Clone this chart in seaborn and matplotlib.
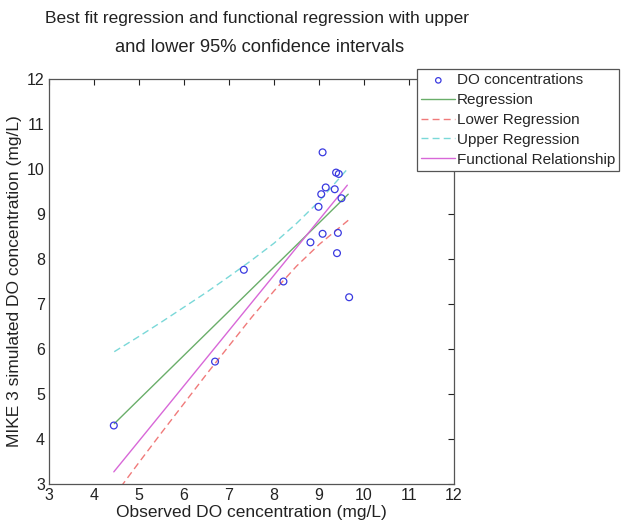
import numpy as np
import pandas as pd
import matplotlib
matplotlib.use("Agg")
import matplotlib.pyplot as plt
import seaborn as sns

# Observed vs simulated DO concentrations (mg/L)
obs_x = [4.44, 6.69, 7.33, 8.21, 8.81, 8.99, 9.05, 9.08, 9.08, 9.15, 9.35, 9.38, 9.44, 9.42, 9.40, 9.50, 9.67]
sim_y = [4.30, 5.72, 7.76, 7.50, 8.37, 9.16, 9.44, 10.37, 8.56, 9.59, 9.55, 9.92, 9.89, 8.58, 8.13, 9.35, 7.15]

# Curves
line_x = [4.45, 5.0, 5.5, 6.0, 6.5, 7.0, 7.5, 8.0, 8.5, 9.0, 9.65]
regression = [4.34, 4.88, 5.37, 5.86, 6.35, 6.84, 7.33, 7.82, 8.31, 8.80, 9.44]
lower_reg = [2.74, 3.48, 4.14, 4.79, 5.44, 6.07, 6.70, 7.29, 7.84, 8.32, 8.86]
upper_reg = [5.94, 6.28, 6.60, 6.93, 7.26, 7.61, 7.97, 8.35, 8.79, 9.28, 10.02]
func_x = [4.44, 9.63]
func_y = [3.27, 9.64]

labels = ["DO concentrations", "Regression", "Lower Regression", "Upper Regression", "Functional Relationship"]
title_lines = ["Best fit regression and functional regression with upper", "and lower 95% confidence intervals"]
xlabel = "Observed DO cencentration (mg/L)"
ylabel = "MIKE 3 simulated DO concentration (mg/L)"
ticks = [3, 4, 5, 6, 7, 8, 9, 10, 11, 12]

sns.set_theme(style="white")
plt.rcParams['font.family'] = ['Liberation Sans', 'DejaVu Sans']

fig = plt.figure(figsize=(6.26, 5.21), dpi=100)
ax = fig.add_axes([0.0783, 0.071, 0.6469, 0.7774])

pts = pd.DataFrame({"x": obs_x, "y": sim_y})
lines = pd.DataFrame({"x": line_x, "reg": regression, "low": lower_reg, "up": upper_reg})
func = pd.DataFrame({"x": func_x, "y": func_y})

sns.scatterplot(data=pts, x="x", y="y", ax=ax, marker="o", s=24,
                facecolors="none", edgecolor="#3a3ae0", linewidth=0.9, label=labels[0], zorder=5)
sns.lineplot(data=lines, x="x", y="reg", ax=ax, color="#6aae6a", linewidth=1.0, label=labels[1])
sns.lineplot(data=lines, x="x", y="low", ax=ax, color="#f07a7a", linewidth=1.0, linestyle=(0, (5, 3)), label=labels[2])
sns.lineplot(data=lines, x="x", y="up", ax=ax, color="#7ad8d8", linewidth=1.0, linestyle=(0, (5, 3)), label=labels[3])
sns.lineplot(data=func, x="x", y="y", ax=ax, color="#d868d8", linewidth=1.0, label=labels[4])

ax.set_xlim(3, 12)
ax.set_ylim(3, 12)
ax.set_xticks(ticks)
ax.set_yticks(ticks)
ax.tick_params(direction="in", length=4, width=0.8, top=True, right=True,
               labelsize=11.5, colors="#222222", pad=3)
for s in ax.spines.values():
    s.set_color("#555555")
    s.set_linewidth(0.9)
ax.set_xlabel(xlabel, fontsize=12.5, color="#222222", labelpad=1)
ax.set_ylabel(ylabel, fontsize=12.5, color="#222222", labelpad=4)

fig.text(0.41, 0.965, title_lines[0], ha="center", va="center", fontsize=12.5, color="#222222")
fig.text(0.415, 0.908, title_lines[1], ha="center", va="center", fontsize=13.2, color="#222222")

leg = ax.legend(loc="upper left", bbox_to_anchor=(0.666, 0.868), bbox_transform=fig.transFigure,
                fontsize=11, frameon=True, fancybox=False, framealpha=1, edgecolor="#555555",
                handlelength=2.2, handletextpad=0.1, borderpad=0.3, labelspacing=0.38,
                borderaxespad=0, markerscale=0.8)
leg.get_frame().set_linewidth(0.9)

fig.savefig("out.png", dpi=100, facecolor="white")
